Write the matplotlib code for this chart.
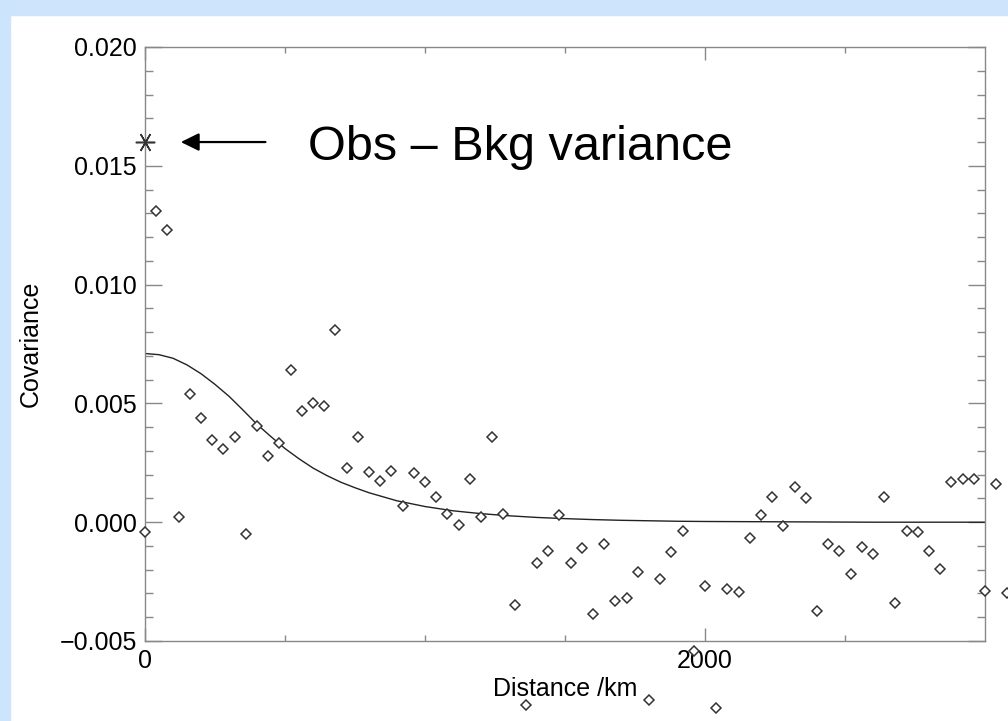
import numpy as np
import matplotlib
matplotlib.use("Agg")
import matplotlib.pyplot as plt
from matplotlib.patches import Rectangle
from matplotlib.ticker import MultipleLocator, FixedLocator

plt.rcParams['font.family'] = ['Liberation Sans', 'DejaVu Sans']

# binned obs-minus-background covariance, 40 km bins
dist_km = [0, 40, 80, 120, 160, 200, 240, 280, 320, 360,
           400, 440, 480, 520, 560, 600, 640, 680, 720, 760,
           800, 840, 880, 920, 960, 1000, 1040, 1080, 1120, 1160,
           1200, 1240, 1280, 1320, 1360, 1400, 1440, 1480, 1520, 1560,
           1600, 1640, 1680, 1720, 1760, 1800, 1840, 1880, 1920, 1960,
           2000, 2040, 2080, 2120, 2160, 2200, 2240, 2280, 2320, 2360,
           2400, 2440, 2480, 2520, 2560, 2600, 2640, 2680, 2720, 2760,
           2800, 2840, 2880, 2920, 2960, 3000, 3040, 3080]
cov = [-0.0004, 0.0131, 0.0123, 0.0002, 0.0054, 0.0044, 0.00345, 0.0031, 0.0036, -0.0005,
       0.00405, 0.0028, 0.00335, 0.0064, 0.0047, 0.0050, 0.0049, 0.0081, 0.0023, 0.0036,
       0.0021, 0.00175, 0.00215, 0.0007, 0.00205, 0.0017, 0.00105, 0.00035, -0.0001, 0.0018,
       0.0002, 0.0036, 0.00035, -0.0035, -0.0077, -0.0017, -0.0012, 0.0003, -0.0017, -0.0011,
       -0.00385, -0.0009, -0.0033, -0.0032, -0.0021, -0.0075, -0.0024, -0.00125, -0.00035, -0.0054,
       -0.0027, -0.0078, -0.0028, -0.00295, -0.00065, 0.0003, 0.00105, -0.00015, 0.0015, 0.0010,
       -0.00375, -0.0009, -0.0012, -0.0022, -0.00105, -0.00135, 0.00105, -0.0034, -0.00035, -0.0004,
       -0.0012, -0.00195, 0.0017, 0.0018, 0.0018, -0.0029, 0.0016, -0.0030]

# fitted background covariance curve
fit_km = [0, 50, 100, 150, 200, 250, 300, 350, 400, 450, 500, 550, 600, 650, 700,
          750, 800, 900, 1000, 1100, 1200, 1300, 1400, 1500, 1600, 1700, 1800,
          1900, 2000, 2200, 2400, 2600, 2800, 3000]
fit_cov = [0.00710, 0.00705, 0.00690, 0.00662, 0.00625, 0.00580, 0.00530, 0.00472, 0.00412,
           0.00360, 0.00310, 0.00267, 0.00228, 0.00196, 0.00168, 0.00145, 0.00124, 0.00090,
           0.00066, 0.00048, 0.00036, 0.00027, 0.00020, 0.00015, 0.00011, 0.00008, 0.00006,
           0.00004, 0.00003, 0.00002, 0.00001, 0.0, 0.0, 0.0]

obs_var_x = [0]
obs_var_y = [0.0160]

fig = plt.figure(figsize=(10.08, 7.21), dpi=100)
fig.patches.append(Rectangle((0, 1 - 15 / 721), 1, 15 / 721, transform=fig.transFigure,
                             color='#cce4fc', zorder=0))
fig.patches.append(Rectangle((0, 0), 10 / 1008, 1, transform=fig.transFigure,
                             color='#cce4fc', zorder=0))

ax = fig.add_axes([145 / 1008, 80 / 721, 840 / 1008, 594 / 721])

ax.plot(fit_km, fit_cov, color='#222222', lw=1.0)
ax.plot(dist_km, cov, ls='none', marker='D', ms=5, mfc='white', mec='#333333',
        mew=1.1, clip_on=False, zorder=3)
ax.plot(obs_var_x, obs_var_y, ls='none', marker=(6, 2, 90), ms=14, mec='#333333',
        mew=1.1, clip_on=False, zorder=3)

ax.annotate('', xy=(118, 0.0160), xytext=(440, 0.0160),
            arrowprops=dict(arrowstyle='-|>,head_length=0.55,head_width=0.27',
                            mutation_scale=20, color='black', lw=1.6))
ax.text(582, 0.01525, 'Obs \u2013 Bkg variance', fontsize=35, va='baseline', ha='left')

ax.set_xlim(0, 3000)
ax.set_ylim(-0.005, 0.020)

ax.xaxis.set_major_locator(FixedLocator([0, 2000]))
ax.xaxis.set_minor_locator(FixedLocator([500, 1000, 1500, 2500]))
ax.yaxis.set_major_locator(MultipleLocator(0.005))
ax.yaxis.set_minor_locator(MultipleLocator(0.001))
ax.yaxis.set_major_formatter(plt.FuncFormatter(lambda v, p: f'{v:.3f}'.replace('-', '\u2212')))

for s in ax.spines.values():
    s.set_color('#888888')
    s.set_linewidth(1.0)

ax.tick_params(axis='both', which='both', direction='in', colors='#888888',
               labelcolor='black', labelsize=18, width=1.0,
               top=True, right=True)
ax.tick_params(axis='x', which='major', length=9.5, pad=6)
ax.tick_params(axis='x', which='minor', length=4.5)
ax.tick_params(axis='y', which='major', length=12.5, pad=6)
ax.tick_params(axis='y', which='minor', length=6)

ax.set_xlabel('Distance /km', fontsize=18, labelpad=3)
ax.set_ylabel('Covariance', fontsize=18, labelpad=12)

fig.savefig('out.png', dpi=100)
